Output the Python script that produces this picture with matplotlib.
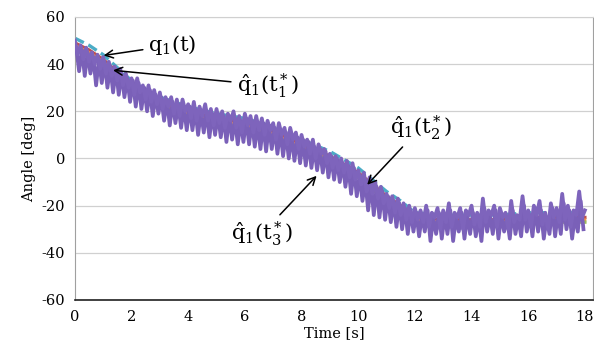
import matplotlib.pyplot as plt

# two overlapping measured trials (purple), one every 0.1 s, second shifted by 0.05 s
t_trial_a = [i / 10 for i in range(181)]
q_trial_a = [
    50, 44, 48, 42, 47, 41, 45, 40, 44, 38,
    43, 36, 41, 35, 39, 33, 38, 31, 36, 30,
    34, 27, 34, 28, 31, 25, 31, 24, 29, 23,
    28, 21, 26, 22, 26, 19, 25, 18, 25, 20,
    23, 17, 24, 16, 22, 18, 23, 16, 21, 14,
    21, 15, 20, 13, 19, 16, 20, 13, 18, 11,
    19, 14, 18, 11, 18, 12, 17, 10, 16, 12,
    15, 8, 15, 10, 13, 6, 13, 8, 11, 4,
    10, 5, 8, 2, 8, 0, 6, 2, 4, -2,
    2, -4, 1, -5, 0, -6, -1, -8, -2, -9,
    -5, -11, -6, -14, -8, -15, -10, -17, -12, -19,
    -15, -21, -16, -23, -17, -24, -19, -26, -20, -27,
    -21, -26, -22, -27, -20, -29, -23, -25, -21, -30,
    -22, -27, -19, -29, -23, -25, -21, -30, -22, -24,
    -20, -28, -23, -29, -17, -27, -22, -24, -20, -29,
    -21, -25, -23, -30, -18, -27, -24, -26, -16, -26,
    -22, -29, -20, -24, -18, -28, -23, -30, -19, -25,
    -21, -27, -15, -26, -20, -29, -22, -24, -14, -25,
    -22,
]
t_trial_b = [i / 10 + 0.05 for i in range(180)]
q_trial_b = [
    47, 37, 46, 35, 45, 36, 43, 31, 42, 32,
    41, 30, 39, 28, 38, 27, 36, 26, 34, 24,
    33, 22, 32, 21, 30, 20, 29, 18, 27, 19,
    26, 16, 25, 14, 24, 15, 23, 13, 22, 12,
    22, 12, 21, 10, 20, 11, 20, 9, 19, 10,
    19, 9, 18, 7, 18, 8, 17, 6, 16, 7,
    17, 6, 16, 5, 15, 4, 15, 3, 14, 4,
    13, 2, 12, 1, 11, 0, 10, -1, 9, -2,
    8, -3, 7, -4, 5, -5, 4, -6, 3, -8,
    1, -9, 0, -10, -2, -12, -3, -15, -4, -16,
    -7, -18, -9, -22, -10, -24, -12, -25, -14, -26,
    -16, -27, -18, -29, -19, -30, -21, -32, -22, -31,
    -23, -33, -24, -31, -22, -35, -25, -32, -23, -34,
    -24, -32, -22, -35, -25, -31, -23, -34, -24, -32,
    -23, -33, -25, -35, -21, -31, -24, -32, -22, -34,
    -24, -31, -25, -34, -22, -32, -25, -33, -20, -31,
    -24, -33, -21, -31, -22, -34, -25, -32, -21, -33,
    -23, -32, -19, -30, -22, -34, -24, -31, -18, -30,
]

# reference q1(t) and the three estimates
t_ref = [0, 0.5, 1, 1.5, 2, 2.5, 3, 3.5, 4, 5, 6, 7, 8, 8.5, 9, 9.5, 10, 10.5,
         11, 11.5, 12, 13, 14, 15, 16, 17, 18]
q_ref = [51, 48, 44, 38.5, 33, 29, 26, 24, 22, 19, 17, 13.5, 8, 5.5, 3, -0.5, -4, -9,
         -14, -18, -23, -24, -24, -24, -23, -23, -23]
q_est1 = [49, 46, 42, 36.5, 31, 27, 24, 22, 20, 17, 15, 11.5, 6, 3.5, 1, -2.5, -6, -11,
          -16, -20, -25, -26, -26, -26, -25, -25, -25]
q_est2 = [47, 44, 40, 34.5, 29, 25, 22, 20, 18, 15, 13, 9.5, 4, 1.5, -1, -4.5, -8, -13,
          -18, -22, -27, -28, -28, -28, -27, -27, -27]
q_est3 = [48, 45, 41, 35.5, 30, 26, 23, 21, 19, 16, 14, 10.5, 5, 2.5, 0, -3.5, -7, -12,
          -17, -21, -26, -27, -27, -27, -26, -26, -26]

yticks = [-60, -40, -20, 0, 20, 40, 60]
xticks = [0, 2, 4, 6, 8, 10, 12, 14, 16, 18]

plt.rcParams['axes.unicode_minus'] = False
plt.rcParams['mathtext.fontset'] = 'custom'
plt.rcParams['mathtext.rm'] = 'DejaVu Serif'
plt.rcParams['mathtext.it'] = 'DejaVu Serif:italic'

fig = plt.figure(figsize=(5.94, 3.61), dpi=100)
ax = fig.add_axes([0.126, 0.169, 0.872, 0.784])

ax.plot(t_ref, q_ref, color='#4BACC6', lw=2.4, ls=(0, (3, 1.5)), zorder=2)
ax.plot(t_ref, q_est1, color='#C0504D', lw=2.4, zorder=2)
ax.plot(t_ref, q_est3, color='#F79646', lw=2.0, zorder=2)
ax.plot(t_ref, q_est2, color='#9BBB59', lw=2.4, zorder=2)
ax.plot(t_trial_b, q_trial_b, color='#7a60b8', lw=2.7, zorder=3)
ax.plot(t_trial_a, q_trial_a, color='#7e64bc', lw=2.7, zorder=3)

ax.set_xlim(0, 18.28)
ax.set_ylim(-60, 60)
ax.set_xticks(xticks)
ax.set_yticks(yticks)
ax.tick_params(length=0, labelsize=10.5, pad=7)
for lab in ax.get_xticklabels() + ax.get_yticklabels():
    lab.set_family('DejaVu Serif')
ax.yaxis.grid(True, color='#d0d0d0', lw=0.9)
ax.set_axisbelow(True)
ax.spines['left'].set_color('#a0a0a0')
ax.spines['right'].set_color('#a0a0a0')
ax.spines['top'].set_color('#d0d0d0')
ax.spines['bottom'].set_color('#202020')
ax.spines['bottom'].set_linewidth(1.2)

ax.set_xlabel('Time [s]', family='DejaVu Serif', fontsize=10.5, labelpad=2)
ax.set_ylabel('Angle [deg]', family='DejaVu Serif', fontsize=10.5, labelpad=4)

arrow = dict(arrowstyle='->', color='black', lw=1.1, mutation_scale=14)
txt = dict(fontsize=15, ha='center', va='center', zorder=5)
ax.annotate(r'$\mathrm{q}_1(\mathrm{t})$', xy=(0.92, 43.5), xytext=(3.45, 48),
            arrowprops=arrow, **txt)
ax.annotate(r'$\hat{\mathrm{q}}_1(\mathrm{t}_1^*)$', xy=(1.25, 37.5), xytext=(6.8, 31),
            arrowprops=arrow, **txt)
ax.annotate(r'$\hat{\mathrm{q}}_1(\mathrm{t}_2^*)$', xy=(10.25, -12), xytext=(12.2, 13),
            arrowprops=arrow, **txt)
ax.annotate(r'$\hat{\mathrm{q}}_1(\mathrm{t}_3^*)$', xy=(8.6, -6.5), xytext=(6.6, -32),
            arrowprops=arrow, **txt)

fig.savefig('out.png', dpi=100)
